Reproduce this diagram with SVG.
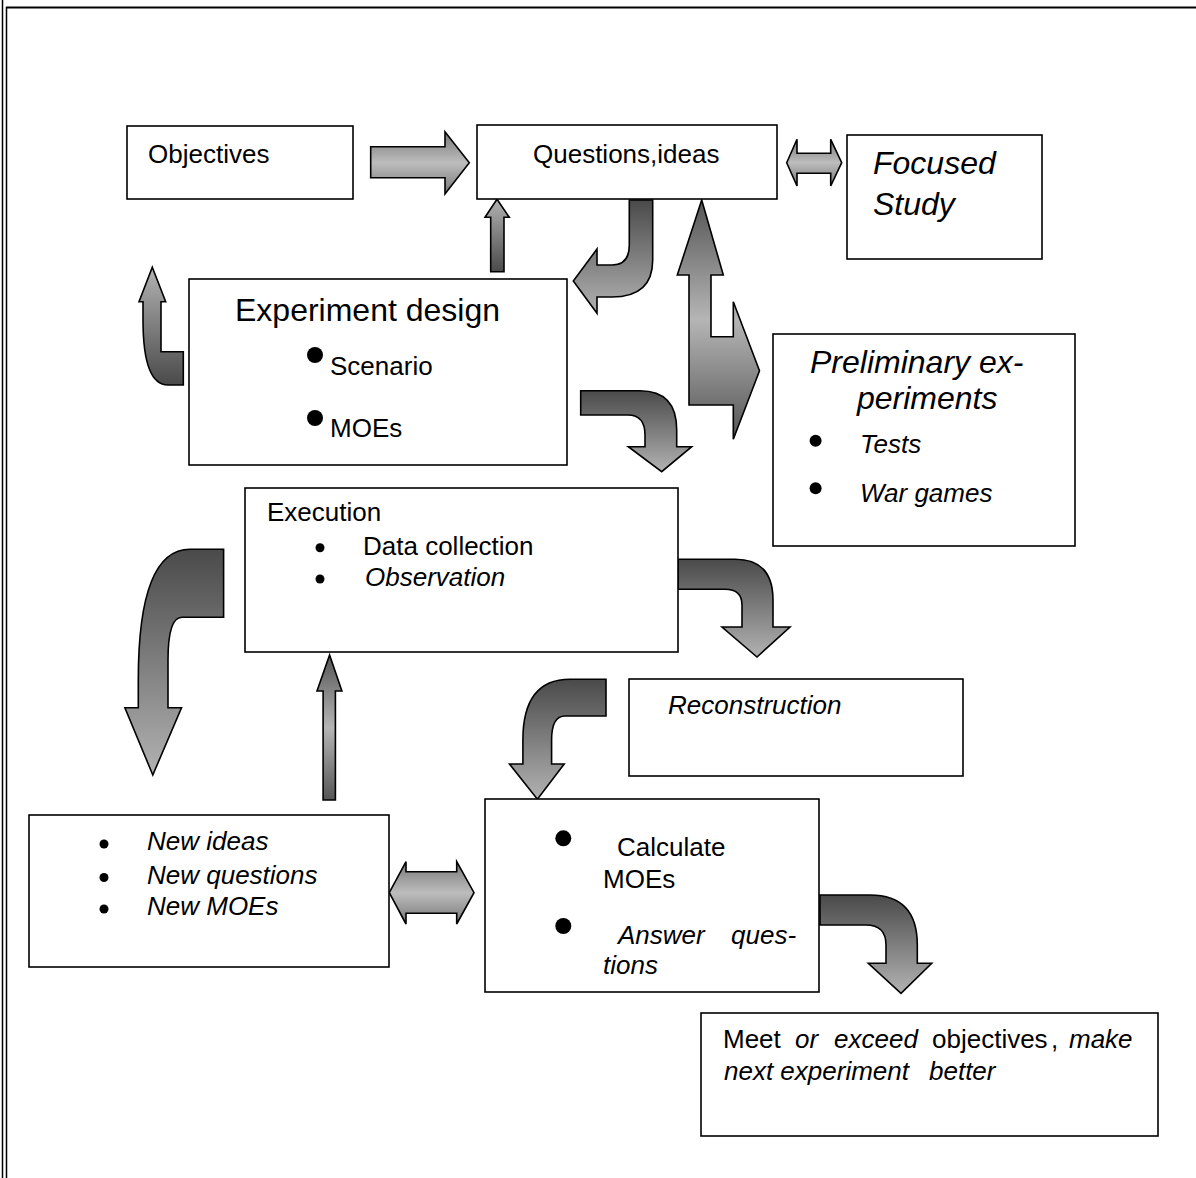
<svg xmlns="http://www.w3.org/2000/svg" width="1196" height="1178" viewBox="0 0 1196 1178">
<defs>
<linearGradient id="gDown" x1="0" y1="0" x2="0" y2="1"><stop offset="0" stop-color="#4a4a4a"/><stop offset="1" stop-color="#b2b2b2"/></linearGradient>
<linearGradient id="gUp" x1="0" y1="0" x2="0" y2="1"><stop offset="0" stop-color="#b2b2b2"/><stop offset="1" stop-color="#4a4a4a"/></linearGradient>
<linearGradient id="gMid" x1="0" y1="0" x2="0" y2="1"><stop offset="0" stop-color="#555"/><stop offset="0.5" stop-color="#b5b5b5"/><stop offset="1" stop-color="#555"/></linearGradient>
<linearGradient id="gMidL" x1="0" y1="0" x2="0" y2="1"><stop offset="0" stop-color="#777"/><stop offset="0.5" stop-color="#bdbdbd"/><stop offset="1" stop-color="#777"/></linearGradient>
</defs>
<style>
.box{fill:#fff;stroke:#000;stroke-width:1.6}
.arr{stroke:#000;stroke-width:1.6;stroke-linejoin:miter}
text{font-family:"Liberation Sans",Arial,sans-serif;font-size:26px;fill:#000}
.it{font-style:italic}
.big{font-size:32px}
.dot{fill:#000}
</style>
<g id="border" fill="none" stroke="#000">
<line x1="2.5" y1="0" x2="2.5" y2="1178" stroke-width="1.5"/>
<line x1="6.5" y1="7" x2="6.5" y2="1178" stroke-width="1.5"/>
<line x1="6" y1="7.5" x2="1196" y2="7.5" stroke-width="2.2"/>
</g>
<g id="connectors">
<path class="arr" fill="url(#gMidL)" d="M370.7 146.7 L445 146.7 L445 131.7 L469.3 162.7 L445 194 L445 177.7 L370.7 177.7 Z"/>
<path class="arr" fill="url(#gUp)" d="M497 199.3 L509.3 217.3 L504 217.3 L504 271.7 L490.7 271.7 L490.7 217.3 L485 217.3 Z"/>
<path class="arr" fill="url(#gMidL)" d="M786.7 162.7 L797 139.3 L797 153.3 L830.7 153.3 L830.7 139.3 L841.7 162.7 L830.7 186 L830.7 173.3 L797 173.3 L797 186 Z"/>
<path class="arr" fill="url(#gDown)" d="M629.3 200 L652.7 200 L652.7 260 Q652.7 297 612 297 L597 297 L597 313.3 L573.3 281 L597 249 L597 265 L612 265 Q629.3 265 629.3 245 Z"/>
<path class="arr" fill="url(#gMid)" d="M701.7 200 L723.3 275 L711 275 L711 336.7 L733.3 336.7 L733.3 301.7 L759.5 370.7 L733.3 439.3 L733.3 405 L689 405 L689 275 L677.3 275 Z"/>
<path class="arr" fill="url(#gUp)" d="M152.3 267.3 L165.7 301.7 L161 301.7 L161 351.7 L183.3 351.7 L183.3 385 L168 385 Q143 385 143 320 L143 301.7 L139 301.7 Z"/>
<path class="arr" fill="url(#gDown)" d="M580.7 390.7 L640 390.7 Q676.7 390.7 676.7 430 L676.7 446.7 L691.7 446.7 L661.7 471.7 L628.3 446.7 L645 446.7 L645 435 Q645 415 628 415 L580.7 415 Z"/>
<path class="arr" fill="url(#gDown)" d="M223.6 549.3 L223.6 617.3 L182 617.3 Q168 617.3 168 660 L168 707.7 L181.5 707.7 L152.8 775 L124.9 707.7 L138.3 707.7 L138.3 680 Q138.3 549.3 190 549.3 Z"/>
<path class="arr" fill="url(#gMid)" d="M329.6 655 L341.9 691 L335.4 691 L335.4 800 L323.1 800 L323.1 691 L317 691 Z"/>
<path class="arr" fill="url(#gDown)" d="M678 559.3 L735 559.3 Q773 559.3 773 600 L773 627 L790 627 L757 657 L722 627 L742 627 L742 605 Q742 589.3 725 589.3 L678 589.3 Z"/>
<path class="arr" fill="url(#gDown)" d="M606 679.3 L606 716 L565 716 Q551.6 716 551.6 740 L551.6 764 L564.2 764 L537.4 799.3 L509.5 764 L522.9 764 L522.9 740 Q522.9 679.3 570 679.3 Z"/>
<path class="arr" fill="url(#gDown)" d="M820 895 L870 895 Q917.3 895 917.3 945 L917.3 963.3 L931.7 963.3 L901 993.3 L868.3 963.3 L886 963.3 L886 945 Q886 925 866 925 L820 925 Z"/>
<path class="arr" fill="url(#gMidL)" d="M389.3 892.7 L406 861.7 L406 871.7 L456.7 871.7 L456.7 861.7 L474 892.7 L456.7 924 L456.7 913.3 L406 913.3 L406 924 Z"/>
</g>
<g id="objectives">
<rect class="box" x="127" y="126" width="226" height="73"/>
<text x="148" y="163">Objectives</text>
</g>
<g id="questions">
<rect class="box" x="477" y="125" width="300" height="74"/>
<text x="533" y="163">Questions,ideas</text>
</g>
<g id="focused">
<rect class="box" x="847" y="135" width="195" height="124"/>
<text class="it big" x="873" y="174">Focused</text>
<text class="it big" x="873" y="215">Study</text>
</g>
<g id="design">
<rect class="box" x="189" y="279" width="378" height="186"/>
<text class="big" x="235" y="321">Experiment design</text>
<circle class="dot" cx="315" cy="355" r="8"/>
<text x="330" y="375">Scenario</text>
<circle class="dot" cx="315" cy="418" r="8"/>
<text x="330" y="437">MOEs</text>
</g>
<g id="preliminary">
<rect class="box" x="773" y="334" width="302" height="212"/>
<text class="it big" x="810" y="373">Preliminary ex-</text>
<text class="it big" x="857" y="409">periments</text>
<circle class="dot" cx="815.6" cy="440.7" r="6"/>
<text class="it" x="860" y="453">Tests</text>
<circle class="dot" cx="815.6" cy="488.3" r="6"/>
<text class="it" x="860" y="502">War games</text>
</g>
<g id="execution">
<rect class="box" x="245" y="488" width="433" height="164"/>
<text x="267" y="521">Execution</text>
<circle class="dot" cx="320" cy="547.7" r="4.5"/>
<text x="363" y="555">Data collection</text>
<circle class="dot" cx="320" cy="579" r="4.5"/>
<text class="it" x="365" y="586">Observation</text>
</g>
<g id="reconstruction">
<rect class="box" x="629" y="679" width="334" height="97"/>
<text class="it" x="668" y="714">Reconstruction</text>
</g>
<g id="newideas">
<rect class="box" x="29" y="815" width="360" height="152"/>
<circle class="dot" cx="104" cy="844" r="4.5"/>
<text class="it" x="147" y="850">New ideas</text>
<circle class="dot" cx="104" cy="877.5" r="4.5"/>
<text class="it" x="147" y="883.5">New questions</text>
<circle class="dot" cx="104" cy="909" r="4.5"/>
<text class="it" x="147" y="915">New MOEs</text>
</g>
<g id="calculate">
<rect class="box" x="485" y="799" width="334" height="193"/>
<circle class="dot" cx="563.3" cy="838.3" r="8"/>
<text x="617" y="856">Calculate</text>
<text x="603" y="888">MOEs</text>
<circle class="dot" cx="563.3" cy="926" r="8"/>
<text class="it" x="618" y="944">Answer</text>
<text class="it" x="731" y="944">ques-</text>
<text class="it" x="603" y="974">tions</text>
</g>
<g id="meet">
<rect class="box" x="701" y="1013" width="457" height="123"/>
<text x="723" y="1048">Meet</text>
<text class="it" x="795" y="1048">or</text>
<text class="it" x="834" y="1048">exceed</text>
<text x="932" y="1048">objectives</text>
<text x="1051" y="1048">,</text>
<text class="it" x="1069" y="1048">make</text>
<text class="it" x="724" y="1080">next experiment</text>
<text class="it" x="929" y="1080">better</text>
</g>
</svg>
